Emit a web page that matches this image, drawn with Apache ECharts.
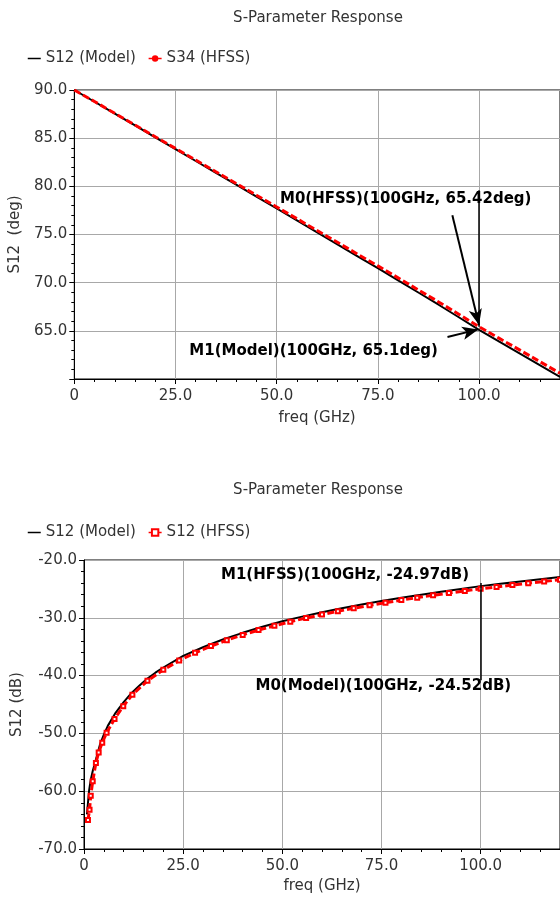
<!DOCTYPE html>
<html lang="en">
<head>
  <meta charset="UTF-8">
  <title>S-Parameter Response</title>
  <style>
      body {
          margin: 0;
          background: #fff;
      }
      .chart {
          width: 560px;
          height: 451px;
      }
  </style>
</head>
<body>
<div id="chart1" class="chart"></div>
<div id="chart2" class="chart"></div>

<script src="https://cdn.jsdelivr.net/npm/echarts@6.0.0/dist/echarts.min.js"></script>
<script>

  // phase plot (deg)
  const freqTop = [0, 5, 10, 15, 20, 25, 30, 35, 40, 45, 50, 55, 60, 65, 70, 75, 80, 85, 90, 95, 100, 105, 110, 115, 120];
  const s12ModelDeg = [90.0, 88.78, 87.55, 86.32, 85.08, 83.86, 82.63, 81.40, 80.17, 78.94, 77.70, 76.46, 75.22, 73.98, 72.74, 71.50, 70.24, 68.98, 67.71, 66.41, 65.10, 63.88, 62.66, 61.44, 60.22];
  const s34HfssDeg = [90.0, 88.80, 87.58, 86.37, 85.14, 83.94, 82.73, 81.51, 80.30, 79.08, 77.86, 76.64, 75.41, 74.19, 72.96, 71.74, 70.50, 69.25, 68.00, 66.72, 65.42, 64.22, 63.02, 61.81, 60.60];

  // magnitude plot (dB)
  const freqModel = [0.75, 1, 1.3, 1.7, 2.2, 3, 4, 5, 6, 8, 10, 12, 14, 16, 18, 20, 25, 30, 35, 40, 45, 50, 55, 60, 65, 70, 75, 80, 85, 90, 95, 100, 105, 110, 115, 120];
  const s12ModelDb = [-64.0, -62.0, -59.8, -58.0, -56.5, -54.5, -52.0, -50.2, -48.7, -46.4, -44.6, -43.0, -41.7, -40.5, -39.5, -38.6, -36.6, -35.1, -33.75, -32.6, -31.55, -30.6, -29.8, -29.05, -28.35, -27.7, -27.1, -26.55, -26.0, -25.5, -25.0, -24.52, -24.12, -23.72, -23.33, -22.95];
  const freqHfss = [1.0, 1.4, 1.7, 2.2, 3.0, 3.7, 4.6, 5.7, 7.7, 9.9, 12.2, 16, 20, 24, 28, 32, 36, 40, 44, 48, 52, 56, 60, 64, 68, 72, 76, 80, 84, 88, 92, 96, 100, 104, 108, 112, 116, 120];
  const s12HfssDb = [-65.0, -63.2, -60.8, -58.3, -55.1, -53.3, -51.6, -49.9, -47.5, -45.3, -43.3, -40.9, -39.0, -37.4, -36.06, -34.9, -33.87, -32.96, -32.13, -31.38, -30.68, -30.04, -29.44, -28.88, -28.35, -27.85, -27.38, -26.94, -26.51, -26.11, -25.72, -25.35, -24.97, -24.66, -24.33, -24.02, -23.71, -23.42];

  const xTicks = [0, 25, 50, 75, 100];

  const FONT = 'DejaVu Sans';

  function pairs(xs, ys) {
    return xs.map(function (x, i) { return [x, ys[i]]; });
  }

  function xAxisCfg(nameGap) {
    return {
      type: 'value',
      min: 0,
      max: 120,
      interval: 25,
      name: 'freq (GHz)',
      nameLocation: 'middle',
      nameGap: nameGap,
      nameTextStyle: {fontFamily: FONT, fontSize: 15, color: '#333'},
      axisLine: {lineStyle: {color: '#000', width: 1}},
      axisTick: {length: 5, lineStyle: {color: '#000'}},
      minorTick: {show: true, splitNumber: 5, length: 3, lineStyle: {color: '#000'}},
      splitLine: {show: true, lineStyle: {color: '#a8a8a8', width: 1}},
      axisLabel: {
        margin: 10,
        fontFamily: FONT, fontSize: 15, color: '#333',
        showMaxLabel: false,
        formatter: function (v) { return xTicks.indexOf(v) < 0 ? '' : (v === 0 ? '0' : v.toFixed(1)); }
      }
    };
  }

  function yAxisCfg(name, min, max, interval, nameGap, showMin) {
    return {
      type: 'value',
      min: min,
      max: max,
      interval: interval,
      name: name,
      nameLocation: 'middle',
      nameGap: nameGap,
      nameTextStyle: {fontFamily: FONT, fontSize: 15, color: '#333'},
      axisLine: {show: true, lineStyle: {color: '#000', width: 1}},
      axisTick: {show: true, length: 5, lineStyle: {color: '#000'}},
      minorTick: {show: true, splitNumber: 5, length: 3, lineStyle: {color: '#000'}},
      splitLine: {show: true, lineStyle: {color: '#a8a8a8', width: 1}},
      axisLabel: {
        margin: 7,
        showMinLabel: showMin,
        fontFamily: FONT, fontSize: 15, color: '#333',
        formatter: function (v) { return (!showMin && v === min) ? '' : v.toFixed(1); }
      }
    };
  }

  const markText = {fontFamily: FONT, fontSize: 15, fontWeight: 'bold', color: '#000'};

  const option1 = {
    animation: false,
    title: {
      text: 'S-Parameter Response',
      left: 313,
      top: 6,
      textAlign: 'center',
      textStyle: {fontFamily: FONT, fontSize: 15, fontWeight: 'normal', color: '#333'}
    },
    legend: {
      left: 22,
      top: 46,
      itemWidth: 13,
      itemHeight: 8,
      itemGap: 12,
      textStyle: {fontFamily: FONT, fontSize: 15, color: '#333'},
      lineStyle: {type: 'solid', width: 1.5},
      data: [{name: 'S12 (Model)', itemStyle: {opacity: 0}}, 'S34 (HFSS)']
    },
    grid: {
      left: 74, top: 90, bottom: 72, right: -6,
      show: true, borderColor: '#000', borderWidth: 1
    },
    xAxis: xAxisCfg(32),
    yAxis: yAxisCfg('S12  (deg)', 60, 90, 5, 49, false),
    series: [
      {
        name: 'S12 (Model)',
        type: 'line',
        symbol: 'none',
        color: '#000',
        lineStyle: {color: '#000', width: 2},
        data: pairs(freqTop, s12ModelDeg),
        markLine: {
          silent: true,
          symbol: ['none', 'arrow'],
          symbolSize: [10, 16],
          label: {show: false},
          lineStyle: {color: '#000', width: 2, type: 'solid'},
          data: [
            [{coord: [93.4, 77.0]}, {coord: [100, 65.6]}],
            [{coord: [92.2, 64.36]}, {coord: [99.8, 65.15]}],
            [{coord: [100, 79.6], symbol: 'none', lineStyle: {width: 1.5}}, {coord: [100, 65.42], symbol: 'none'}]
          ]
        },
        markPoint: {
          silent: true,
          symbol: 'circle',
          symbolSize: 1,
          itemStyle: {color: 'transparent'},
          label: Object.assign({show: true, position: 'right', distance: 0}, markText),
          data: [
            {coord: [50.7, 78.7], label: {formatter: 'M0(HFSS)(100GHz, 65.42deg)'}},
            {coord: [28.3, 62.9], label: {formatter: 'M1(Model)(100GHz, 65.1deg)'}}
          ]
        }
      },
      {
        name: 'S34 (HFSS)',
        type: 'line',
        symbol: 'circle',
        symbolSize: 3,
        showSymbol: false,
        color: '#ff0000',
        lineStyle: {color: '#ff0000', width: 3, type: [7, 3]},
        data: pairs(freqTop, s34HfssDeg)
      }
    ]
  };

  const option2 = {
    animation: false,
    title: {
      text: 'S-Parameter Response',
      left: 313,
      top: 27,
      textAlign: 'center',
      textStyle: {fontFamily: FONT, fontSize: 15, fontWeight: 'normal', color: '#333'}
    },
    legend: {
      left: 22,
      top: 69,
      itemWidth: 13,
      itemHeight: 8,
      itemGap: 12,
      textStyle: {fontFamily: FONT, fontSize: 15, color: '#333'},
      lineStyle: {type: 'solid', width: 1.5},
      data: [{name: 'S12 (Model)', itemStyle: {opacity: 0}}, 'S12 (HFSS)']
    },
    grid: {
      left: 84, top: 109, bottom: 53, right: -4,
      show: true, borderColor: '#000', borderWidth: 1
    },
    xAxis: xAxisCfg(30),
    yAxis: yAxisCfg('S12 (dB)', -70, -20, 10, 59, true),
    series: [
      {
        name: 'S12 (Model)',
        type: 'line',
        symbol: 'none',
        color: '#000',
        lineStyle: {color: '#000', width: 2},
        data: pairs(freqModel, s12ModelDb),
        markLine: {
          silent: true,
          symbol: 'none',
          label: {show: false},
          lineStyle: {color: '#000', width: 1.5, type: 'solid'},
          data: [
            [{coord: [100, -24.0]}, {coord: [100, -40.8]}]
          ]
        },
        markPoint: {
          silent: true,
          symbol: 'circle',
          symbolSize: 1,
          itemStyle: {color: 'transparent'},
          label: Object.assign({show: true, position: 'right', distance: 0}, markText),
          data: [
            {coord: [34.4, -22.54], label: {formatter: 'M1(HFSS)(100GHz, -24.97dB)'}},
            {coord: [43.1, -41.75], label: {formatter: 'M0(Model)(100GHz, -24.52dB)'}}
          ]
        }
      },
      {
        name: 'S12 (HFSS)',
        type: 'line',
        symbol: 'emptyRect',
        symbolSize: 4,
        showSymbol: true,
        color: '#ff0000',
        itemStyle: {color: '#ff0000', borderColor: '#ff0000', borderWidth: 1},
        lineStyle: {color: '#ff0000', width: 3, type: [7, 3]},
        data: pairs(freqHfss, s12HfssDb)
      }
    ]
  };

  const chart1 = echarts.init(document.getElementById('chart1'));
  chart1.setOption(option1);
  const chart2 = echarts.init(document.getElementById('chart2'));
  chart2.setOption(option2);

</script>
</body>
</html>
